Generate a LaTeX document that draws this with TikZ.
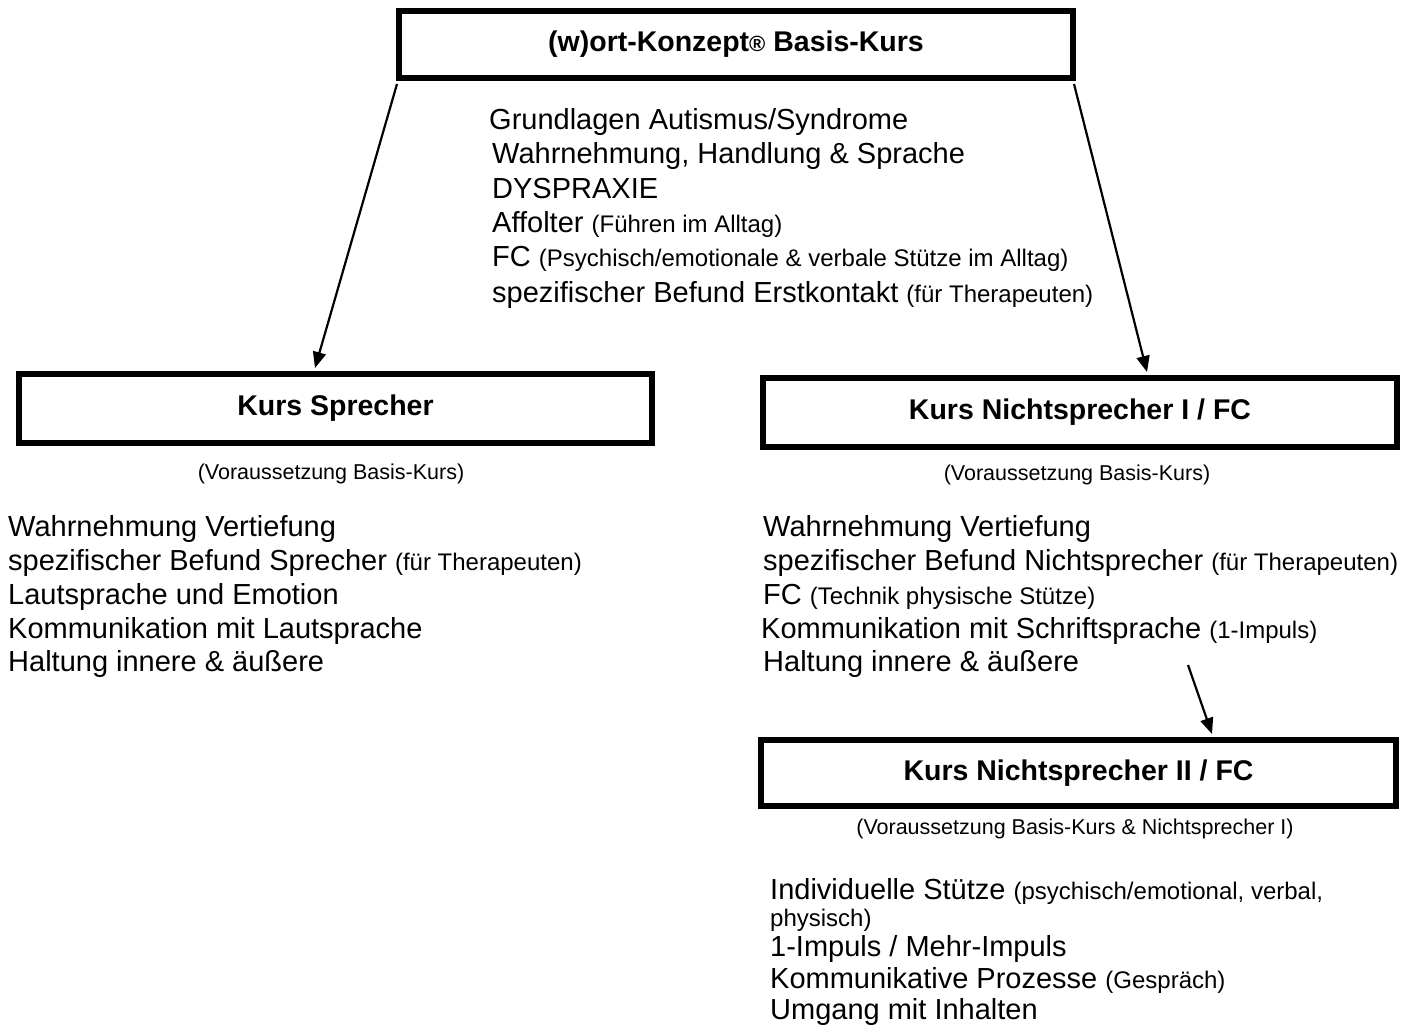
\documentclass[tikz,border=0pt]{standalone}
\usepackage{fontspec}
\setmainfont{Liberation Sans}
\usetikzlibrary{arrows.meta,calc}
\newcommand\smtxt[1]{{\fontsize{24}{28}\selectfont #1}}
\begin{document}
\begin{tikzpicture}[x=1pt,y=-1pt,
  box/.style={draw, line width=6pt, inner sep=0pt, anchor=north west,
    font=\bfseries\fontsize{28.5}{34}\selectfont},
  lst/.style={anchor=base west, inner sep=0pt, font=\fontsize{29}{34}\selectfont},
  sub/.style={anchor=base, inner sep=0pt, font=\fontsize{21.5}{26}\selectfont},
  arr/.style={line width=2.2pt, -{Triangle[length=16pt,width=13pt]}}]
\useasboundingbox (0,0) rectangle (1421,1032);

% boxes
\node[box, minimum width=674pt, minimum height=67pt] (basis) at (396,8)
  {(w)ort-Konzept{\fontsize{22}{26}\selectfont ®} Basis-Kurs};
\node[box, minimum width=633pt, minimum height=69pt] (sprecher) at (16,371) {Kurs Sprecher};
\node[box, minimum width=634pt, minimum height=69pt] (nicht1) at (760,375) {Kurs Nichtsprecher I / FC};
\node[box, minimum width=635pt, minimum height=66pt] (nicht2) at (758,737) {Kurs Nichtsprecher II / FC};

% sub captions
\node[sub] (sub1) at (331,479) {(Voraussetzung Basis-Kurs)};
\node[sub] (sub2) at (1077,480) {(Voraussetzung Basis-Kurs)};
\node[sub] (sub3) at (1075,834) {(Voraussetzung Basis-Kurs \& Nichtsprecher I)};

% basis list
\node[lst] (b1) at (489,130) {Grundlagen Autismus/Syndrome};
\node[lst] (b2) at (492,164) {Wahrnehmung, Handlung \& Sprache};
\node[lst] (b3) at (492,199) {DYSPRAXIE};
\node[lst] (b4) at (492,233) {Affolter \smtxt{(Führen im Alltag)}};
\node[lst] (b5) at (492,267) {FC \smtxt{(Psychisch/emotionale \& verbale Stütze im Alltag)}};
\node[lst] (b6) at (492,302) {spezifischer Befund Erstkontakt \smtxt{(für Therapeuten)}};

% sprecher list
\node[lst] (s1) at (8,536) {Wahrnehmung Vertiefung};
\node[lst] (s2) at (8,570) {spezifischer Befund Sprecher \smtxt{(für Therapeuten)}};
\node[lst] (s3) at (8,604) {Lautsprache und Emotion};
\node[lst] (s4) at (8,638) {Kommunikation mit Lautsprache};
\node[lst] (s5) at (8,671) {Haltung innere \& äußere};

% nichtsprecher I list
\node[lst] (n1) at (763,536) {Wahrnehmung Vertiefung};
\node[lst] (n2) at (763,570) {spezifischer Befund Nichtsprecher \smtxt{(für Therapeuten)}};
\node[lst] (n3) at (763,604) {FC \smtxt{(Technik physische Stütze)}};
\node[lst] (n4) at (761,638) {Kommunikation mit Schriftsprache \smtxt{(1-Impuls)}};
\node[lst] (n5) at (763,671) {Haltung innere \& äußere};

% nichtsprecher II list
\node[lst] (m1) at (770,899) {Individuelle Stütze \smtxt{(psychisch/emotional, verbal,}};
\node[lst] (m2) at (770,926) {\smtxt{physisch)}};
\node[lst] (m3) at (770,956) {1-Impuls / Mehr-Impuls};
\node[lst] (m4) at (770,988) {Kommunikative Prozesse \smtxt{(Gespräch)}};
\node[lst] (m5) at (770,1019) {Umgang mit Inhalten};

% connectors
\coordinate (tipS) at ($(sprecher.north west)+(299,-3)$);
\coordinate (tipN) at ($(nicht1.north west)+(387,-3)$);
\coordinate (tipM) at ($(nicht2.north west)+(454,-3)$);
\coordinate (fromN) at (1188,665);
\draw[arr] ($(basis.south west)+(1,3)$) -- (tipS);
\draw[arr] ($(basis.south east)+(-2,3)$) -- (tipN);
\draw[arr] (fromN) -- (tipM);
\end{tikzpicture}
\end{document}
